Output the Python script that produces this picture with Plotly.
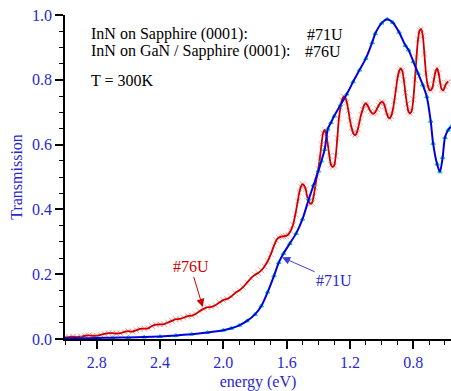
import plotly.graph_objects as go

# ---- data ----
energy_71U = [3.00, 2.90, 2.80, 2.70, 2.60, 2.50, 2.40, 2.30, 2.20, 2.10, 2.00, 1.95, 1.90, 1.85, 1.80,
              1.76, 1.72, 1.68, 1.65, 1.62, 1.58, 1.54, 1.50, 1.46, 1.43, 1.40, 1.38, 1.36, 1.34,
              1.32, 1.30, 1.26, 1.22, 1.18, 1.14, 1.10, 1.06, 1.04, 1.00, 0.965, 0.93, 0.89, 0.85,
              0.83, 0.80, 0.77, 0.74, 0.715, 0.69, 0.675, 0.65, 0.632, 0.615, 0.60, 0.58, 0.562]
trans_71U = [0.002, 0.002, 0.003, 0.004, 0.005, 0.006, 0.008, 0.011, 0.015, 0.020, 0.027, 0.033, 0.042, 0.056, 0.076,
             0.102, 0.145, 0.195, 0.236, 0.264, 0.295, 0.326, 0.370, 0.432, 0.475, 0.518, 0.550, 0.585, 0.648,
             0.668, 0.688, 0.722, 0.756, 0.794, 0.830, 0.866, 0.915, 0.943, 0.975, 0.987, 0.977, 0.947, 0.906,
             0.892, 0.856, 0.820, 0.784, 0.748, 0.672, 0.604, 0.540, 0.516, 0.560, 0.622, 0.645, 0.655]

energy_76U = [3.00, 2.975, 2.95, 2.925, 2.90, 2.875, 2.85, 2.825, 2.80, 2.775, 2.75, 2.725, 2.70, 2.675,
              2.65, 2.625, 2.60, 2.575, 2.55, 2.525, 2.50, 2.475, 2.45, 2.425, 2.40, 2.375, 2.35, 2.325,
              2.30, 2.275, 2.25, 2.225, 2.20, 2.175, 2.15, 2.125, 2.10, 2.075, 2.05, 2.025, 2.00, 1.975,
              1.95, 1.925, 1.90, 1.875, 1.85, 1.825, 1.80, 1.78, 1.76, 1.74, 1.72, 1.70, 1.68, 1.665,
              1.65, 1.635, 1.62, 1.605, 1.59, 1.575, 1.56, 1.545, 1.53, 1.52, 1.51, 1.50, 1.49, 1.48,
              1.47, 1.46, 1.45, 1.44, 1.43, 1.42, 1.41, 1.40, 1.39, 1.38, 1.37, 1.36, 1.35, 1.34,
              1.33, 1.32, 1.31, 1.30, 1.29, 1.28, 1.27, 1.26, 1.25, 1.24, 1.23, 1.22, 1.21, 1.20,
              1.19, 1.18, 1.17, 1.16, 1.15, 1.14, 1.13, 1.12, 1.11, 1.10, 1.09, 1.08, 1.07, 1.06,
              1.05, 1.04, 1.03, 1.02, 1.01, 1.00, 0.99, 0.98, 0.97, 0.96, 0.95, 0.94, 0.93, 0.92,
              0.91, 0.90, 0.89, 0.88, 0.87, 0.86, 0.85, 0.84, 0.83, 0.82, 0.81, 0.80, 0.79, 0.78,
              0.77, 0.76, 0.75, 0.74, 0.73, 0.72, 0.71, 0.70, 0.69, 0.68, 0.67, 0.66, 0.65, 0.64,
              0.63, 0.62, 0.61, 0.60, 0.59, 0.58, 0.57, 0.562]
trans_76U = [0.005, 0.006, 0.007, 0.006, 0.007, 0.010, 0.011, 0.010, 0.010, 0.013, 0.016, 0.018, 0.018, 0.017,
             0.018, 0.022, 0.024, 0.023, 0.027, 0.031, 0.032, 0.033, 0.040, 0.044, 0.045, 0.046, 0.051, 0.056,
             0.061, 0.062, 0.066, 0.071, 0.072, 0.077, 0.086, 0.093, 0.098, 0.099, 0.104, 0.113, 0.120, 0.124,
             0.131, 0.142, 0.150, 0.160, 0.174, 0.188, 0.198, 0.204, 0.212, 0.224, 0.240, 0.262, 0.288, 0.305,
             0.313, 0.316, 0.317, 0.318, 0.322, 0.334, 0.352, 0.385, 0.425, 0.452, 0.470, 0.478, 0.474, 0.462,
             0.440, 0.424, 0.418, 0.420, 0.440, 0.468, 0.500, 0.525, 0.560, 0.600, 0.635, 0.645, 0.632, 0.600,
             0.565, 0.538, 0.531, 0.535, 0.565, 0.620, 0.680, 0.715, 0.738, 0.748, 0.746, 0.730, 0.705, 0.675,
             0.652, 0.636, 0.629, 0.633, 0.648, 0.670, 0.692, 0.708, 0.722, 0.727, 0.722, 0.712, 0.702, 0.697,
             0.696, 0.700, 0.710, 0.720, 0.728, 0.732, 0.730, 0.718, 0.700, 0.686, 0.681, 0.688, 0.706, 0.735,
             0.770, 0.805, 0.826, 0.835, 0.828, 0.800, 0.760, 0.725, 0.702, 0.696, 0.705, 0.740, 0.800, 0.870,
             0.925, 0.952, 0.956, 0.935, 0.880, 0.820, 0.785, 0.770, 0.768, 0.775, 0.800, 0.825, 0.835, 0.820,
             0.790, 0.770, 0.768, 0.780, 0.790, 0.794]

x_tick_vals = [2.8, 2.4, 2.0, 1.6, 1.2, 0.8]
x_tick_text = ["2.8", "2.4", "2.0", "1.6", "1.2", "0.8"]
y_tick_vals = [0.0, 0.2, 0.4, 0.6, 0.8, 1.0]
y_tick_text = ["0.0", "0.2", "0.4", "0.6", "0.8", "1.0"]

FONT = "Times New Roman, Liberation Serif, serif"
BLUE_TXT = "rgb(40,40,210)"
FS = 16

W, H = 451, 391
ML, MR, MT, MB = 65, 0, 15, 52

fig = go.Figure()

# red sample: markers (fuzzy halo) then line
fig.add_trace(go.Scatter(x=energy_76U, y=trans_76U, mode="markers",
                         marker=dict(symbol="x-thin", size=6,
                                     line=dict(width=1, color="rgba(235,110,110,0.55)")),
                         showlegend=False, hoverinfo="skip"))
fig.add_trace(go.Scatter(x=energy_76U, y=trans_76U, mode="lines",
                         line=dict(color="rgb(205,0,0)", width=1.8, shape="spline", smoothing=0.8),
                         showlegend=False))
# blue sample
fig.add_trace(go.Scatter(x=energy_71U, y=trans_71U, mode="markers",
                         marker=dict(symbol="triangle-up-open", size=4,
                                     line=dict(width=1, color="rgb(130,130,255)")),
                         showlegend=False, hoverinfo="skip"))
fig.add_trace(go.Scatter(x=energy_71U, y=trans_71U, mode="lines",
                         line=dict(color="rgb(0,0,225)", width=2, shape="spline", smoothing=0.8),
                         showlegend=False))

axis_common = dict(showline=True, linecolor="black", linewidth=1.5, ticks="outside",
                   ticklen=8, tickwidth=1.5, tickcolor="black", showgrid=False, zeroline=False,
                   tickfont=dict(family=FONT, size=FS, color=BLUE_TXT))

fig.update_xaxes(range=[3.0, 0.562], tickmode="array", tickvals=x_tick_vals, ticktext=x_tick_text,
                 minor=dict(ticks="outside", ticklen=4, tickwidth=1, tickcolor="black",
                            tickmode="linear", tick0=0, dtick=0.1, showgrid=False),
                 title=dict(text="energy (eV)", font=dict(family=FONT, size=FS, color=BLUE_TXT), standoff=6),
                 **axis_common)
fig.update_yaxes(range=[0, 1.0], tickmode="array", tickvals=y_tick_vals, ticktext=y_tick_text,
                 minor=dict(ticks="outside", ticklen=4, tickwidth=1, tickcolor="black",
                            tickmode="linear", tick0=0, dtick=0.05, showgrid=False),
                 title=dict(text="Transmission", font=dict(family=FONT, size=FS, color=BLUE_TXT), standoff=5),
                 **axis_common)

txt = dict(family=FONT, size=FS, color="black")
# (text, left px, centre px) in window pixels
labels = [
    ("InN on Sapphire (0001):", 89, 34),
    ("InN on GaN / Sapphire (0001):", 89, 51),
    ("#71U", 305, 34),
    ("#76U", 303, 51),
    ("T = 300K", 89, 80),
]
for text, px, py in labels:
    fig.add_annotation(x=(px - ML) / (W - ML - MR), y=1 - (py - MT) / (H - MT - MB),
                       xref="paper", yref="paper", text=text, xanchor="left", yanchor="middle",
                       showarrow=False, font=txt)

fig.add_annotation(x=2.13, y=0.099, text="#76U", showarrow=True, ax=-12, ay=-40,
                   arrowhead=2, arrowsize=1.6, arrowwidth=1, arrowcolor="rgb(205,0,0)",
                   font=dict(family=FONT, size=FS, color="rgb(205,0,0)"))
fig.add_annotation(x=1.629, y=0.252, text="#71U", showarrow=True, ax=52, ay=23,
                   arrowhead=2, arrowsize=1.6, arrowwidth=1, arrowcolor="rgb(60,60,230)",
                   font=dict(family=FONT, size=FS, color=BLUE_TXT))

fig.update_layout(width=W, height=H, margin=dict(l=ML, r=MR, t=MT, b=MB),
                  paper_bgcolor="white", plot_bgcolor="white",
                  font=dict(family=FONT, size=FS))

fig.write_html("out.html")
